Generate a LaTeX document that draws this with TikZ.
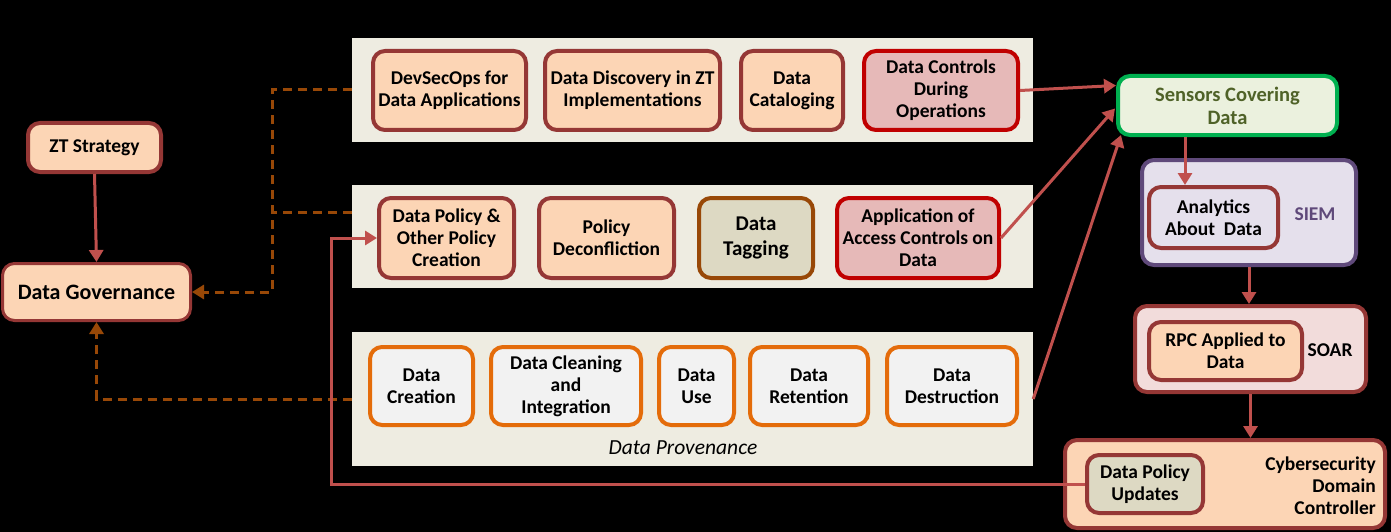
\documentclass[tikz,border=0pt]{standalone}
\usepackage{fontspec}
\setmainfont{Carlito}
\usetikzlibrary{arrows.meta,calc}
\definecolor{peach}{HTML}{FCD5B5}
\definecolor{dred}{HTML}{953735}
\definecolor{bandc}{HTML}{EEECE1}
\definecolor{cred}{HTML}{C0504D}
\definecolor{dashc}{HTML}{984807}
\definecolor{rborder}{HTML}{C00000}
\definecolor{rfill}{HTML}{E6B9B8}
\definecolor{oborder}{HTML}{E46C0A}
\definecolor{ofill}{HTML}{F2F2F2}
\definecolor{tagfill}{HTML}{DDD9C3}
\definecolor{sgreen}{HTML}{00B050}
\definecolor{sfill}{HTML}{EBF1DE}
\definecolor{stext}{HTML}{4F6228}
\definecolor{purp}{HTML}{5F497A}
\definecolor{pfill}{HTML}{E5E0EC}
\definecolor{soarfill}{HTML}{F2DCDB}
\tikzset{
  bx/.style={rounded corners=12pt, line width=4pt, inner sep=0pt, align=center,
    font=\fontsize{19.5}{22}\selectfont\bfseries},
  peachbox/.style={bx, draw=dred, fill=peach},
  redbox/.style={bx, draw=rborder, fill=rfill},
  orbox/.style={bx, draw=oborder, fill=ofill},
  tagbox/.style={bx, draw=dashc, fill=tagfill},
  band/.style={fill=bandc, inner sep=0pt},
  lbl/.style={font=\fontsize{19.5}{22}\selectfont\bfseries, inner sep=0pt},
  redarrow/.style={draw=cred, line width=3pt, -{Triangle[width=14pt,length=12pt]}},
  redline/.style={draw=cred, line width=3pt},
  dasharrow/.style={draw=dashc, line width=3pt, dash pattern=on 9pt off 6pt, -{Triangle[width=14pt,length=12pt]}},
  dashline/.style={draw=dashc, line width=3pt, dash pattern=on 9pt off 6pt},
}
\begin{document}
\begin{tikzpicture}[x=1pt,y=-1pt]
\fill[black] (0,0) rectangle (1391,532);
\useasboundingbox (0,0) rectangle (1391,532);
% bands
\node[band, minimum width=681pt, minimum height=104pt] (b1) at (692.5,90) {};
\node[band, minimum width=681pt, minimum height=103pt] (b2) at (692.5,236.5) {};
\node[band, minimum width=681pt, minimum height=134pt] (b3) at (692.5,399) {};
% band 1
\node[peachbox, minimum width=153pt, minimum height=79pt] (dso) at (449.5,90.5) {DevSecOps for\\Data Applications};
\node[peachbox, minimum width=175pt, minimum height=79pt] (ddi) at (632.5,90.5) {Data Discovery in ZT\\Implementations};
\node[peachbox, minimum width=102pt, minimum height=79pt] (dcat) at (792,90.5) {Data\\Cataloging};
\node[redbox, minimum width=154pt, minimum height=79pt] (dctl) at (941,90.5) {Data Controls\\During\\Operations};
% band 2
\node[peachbox, minimum width=135pt, minimum height=80pt] (dpol) at (446.5,238) {Data Policy \&\\Other Policy\\Creation};
\node[peachbox, minimum width=135pt, minimum height=80pt] (pdec) at (606.5,238) {Policy\\Deconfliction};
\node[tagbox, minimum width=114pt, minimum height=80pt, font=\fontsize{21}{25}\selectfont\bfseries] (dtag) at (756,238) {Data\\Tagging};
\node[redbox, minimum width=162pt, minimum height=80pt] (acc) at (918,238) {Application of\\Access Controls on\\Data};
% band 3
\node[orbox, minimum width=103pt, minimum height=78pt] (dcre) at (421.5,386) {Data\\Creation};
\node[orbox, minimum width=150pt, minimum height=78pt] (dcln) at (566,386) {Data Cleaning\\and\\Integration};
\node[orbox, minimum width=75pt, minimum height=78pt] (duse) at (696.5,386) {Data\\Use};
\node[orbox, minimum width=118pt, minimum height=78pt] (dret) at (809,386) {Data\\Retention};
\node[orbox, minimum width=130pt, minimum height=78pt] (ddes) at (952,386) {Data\\Destruction};
\node[font=\fontsize{21.5}{25}\selectfont\itshape, inner sep=0pt] (prov) at (683,448) {Data Provenance};
% left
\node[peachbox, minimum width=133pt, minimum height=49pt] (zt) at (94.5,147.5) {ZT Strategy};
\node[peachbox, line width=3pt, minimum width=188pt, minimum height=57pt, font=\fontsize{22}{26}\selectfont\bfseries] (dg) at (96.5,292) {Data Governance};
% right
\node[bx, draw=sgreen, fill=sfill, text=stext, minimum width=219pt, minimum height=59pt, font=\fontsize{20.5}{23}\selectfont\bfseries] (sens) at (1227.5,105.5) {Sensors Covering\\Data};
\node[bx, draw=purp, fill=pfill, minimum width=214pt, minimum height=105pt] (siem) at (1249,212.5) {};
\node[bx, draw=dred, fill=pfill, minimum width=129pt, minimum height=61pt] (ana) at (1213.5,217.5) {Analytics\\About~ Data};
\node[lbl, text=purp] (siemt) at (1315,214) {SIEM};
\node[bx, draw=dred, fill=soarfill, minimum width=231pt, minimum height=86pt] (soar) at (1250.5,349) {};
\node[peachbox, minimum width=153pt, minimum height=58pt] (rpc) at (1225.5,351) {RPC Applied to\\Data};
\node[lbl] (soart) at (1330,350) {SOAR};
\node[peachbox, minimum width=320pt, minimum height=88pt] (cdc) at (1225,484) {};
\node[peachbox, fill=tagfill, minimum width=116pt, minimum height=58pt] (dpu) at (1145,484) {Data Policy\\Updates};
\node[lbl, align=right, anchor=east] (cdct) at (1376,486) {Cybersecurity\\Domain\\Controller};
% junctions
\coordinate (jn) at (272,212);
\coordinate (ax) at (1185,0);
% connectors
\draw[redarrow] (zt.south) -- (dg.north);
\draw[dasharrow] (b1.west) -| (jn) |- (dg.east);
\draw[dashline] (b2.west |- jn) -- (jn);
\draw[dasharrow] (b3.west) -| (dg.south);
\draw[redarrow] (dpu.west) -| ($(dpol.west)+(-46,0)$) -- (dpol.west);
\draw[redarrow] (dctl.east) -- ($(sens.west)+(0,-20)$);
\draw[redarrow] (acc.east) -- ($(sens.west)+(-1,3)$);
\draw[redarrow] (b3.east) -- ($(sens.south west)+(5,-2)$);
\draw[redarrow] (sens.south -| ax) -- (ana.north -| ax);
\draw[redarrow] (siem.south) -- (siem.south |- soar.north);
\draw[redarrow] (soar.south) -- (soar.south |- cdc.north);
\end{tikzpicture}
\end{document}
